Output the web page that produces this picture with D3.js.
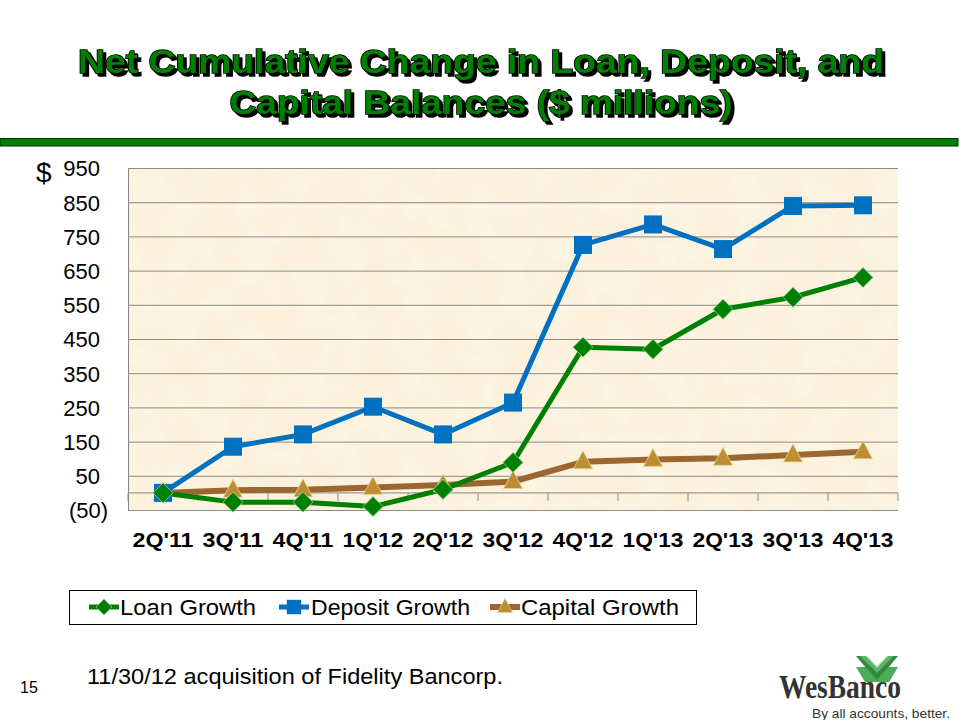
<!DOCTYPE html>
<html><head><meta charset="utf-8">
<script src="https://cdn.jsdelivr.net/npm/d3@7"></script>
<style>
body{margin:0;background:#fff;}
svg{display:block;font-family:Arial,"Liberation Sans",sans-serif;}
</style></head>
<body><svg id="c" width="960" height="720"></svg>
<script>
const categories = ["2Q'11","3Q'11","4Q'11","1Q'12","2Q'12","3Q'12","4Q'12","1Q'13","2Q'13","3Q'13","4Q'13"];
const loanGrowth    = [0, -27, -27, -40, 10, 89, 426, 420, 537, 572, 630];
const depositGrowth = [0, 135, 171, 252, 171, 264, 725, 785, 713, 839, 841];
const capitalGrowth = [0, 8, 9, 16, 23, 33, 91, 98, 101, 111, 120];
const yTicks = [-50, 50, 150, 250, 350, 450, 550, 650, 750, 850, 950];
const seriesNames = ["Loan Growth", "Deposit Growth", "Capital Growth"];
const titleLines = ["Net Cumulative Change in Loan, Deposit, and", "Capital Balances ($ millions)"];
const footnote = "11/30/12 acquisition of Fidelity Bancorp.";
const pageNumber = "15";

const svg = d3.select("#c");
const L = 128, R = 898, T = 168, B = 510;
const defs = svg.append("defs");

// Title with drop shadow
const sh = defs.append("filter").attr("id", "tshadow").attr("x", "-5%").attr("y", "-20%").attr("width", "110%").attr("height", "150%");
sh.append("feDropShadow").attr("dx", 3).attr("dy", 3).attr("stdDeviation", 0.6)
  .attr("flood-color", "#000").attr("flood-opacity", 1);
const tg = svg.append("g");
const tspec = [{t: titleLines[0], y: 73, len: 806}, {t: titleLines[1], y: 114, len: 503}];
tspec.forEach(s => {
  tg.append("text").attr("x", 481).attr("y", s.y).attr("text-anchor", "middle")
    .attr("font-size", 34).attr("font-weight", "bold").attr("fill", "#008000")
    .attr("stroke", "#000").attr("stroke-width", 1.6).attr("paint-order", "stroke")
    .attr("filter", "url(#tshadow)")
    .attr("textLength", s.len).attr("lengthAdjust", "spacingAndGlyphs").text(s.t);
});
svg.append("rect").attr("x", 0).attr("y", 138.5).attr("width", 958).attr("height", 7.5)
  .attr("fill", "#008000").attr("stroke", "#0a2a0a").attr("stroke-width", 1);

// Scales
const x = d3.scaleBand().domain(categories).range([L, R]).padding(0);
const y = d3.scaleLinear().domain([-50, 950]).range([B, T]);
const cx = c => x(c) + x.bandwidth() / 2;

// Plot background (parchment)
const f = defs.append("filter").attr("id", "parch").attr("x", 0).attr("y", 0).attr("width", 1).attr("height", 1);
f.append("feTurbulence").attr("type", "fractalNoise").attr("baseFrequency", 0.03).attr("numOctaves", 3).attr("seed", 4).attr("result", "n");
f.append("feColorMatrix").attr("in", "n").attr("type", "matrix")
  .attr("values", "0 0 0 0 0.99  0 0 0 0 0.95  0 0 0 0 0.85  0 0 0 0.9 -0.25").attr("result", "c");
f.append("feComposite").attr("in", "c").attr("in2", "SourceGraphic").attr("operator", "over");
svg.append("rect").attr("x", L).attr("y", T).attr("width", R - L).attr("height", B - T)
  .attr("fill", "#FBF0DA").attr("filter", "url(#parch)");

// Gridlines + y labels
const yAxis = d3.axisLeft(y).tickValues(yTicks).tickSize(-(R - L)).tickPadding(0)
  .tickFormat(d => d < 0 ? "(" + Math.abs(d) + ")" : String(d));
const ya = svg.append("g").attr("transform", `translate(${L},0)`).call(yAxis);
ya.select(".domain").attr("stroke", "#868686");
ya.selectAll(".tick line").attr("stroke", "#8a8a8a").attr("stroke-width", 1);
ya.selectAll(".tick text").attr("font-size", 22).attr("fill", "#000")
  .attr("font-family", "Arial, 'Liberation Sans', sans-serif")
  .attr("x", d => d < 0 ? -20 : -28).attr("dy", "0.36em");
svg.append("text").attr("x", 36).attr("y", 182).attr("font-size", 28).attr("fill", "#000").text("$");

// X axis line at zero with boundary ticks
const xa = svg.append("g");
xa.append("line").attr("x1", L).attr("x2", R).attr("y1", y(0)).attr("y2", y(0)).attr("stroke", "#868686");
xa.selectAll("line.tk").data(categories.concat(["end"])).enter().append("line").attr("class", "tk")
  .attr("x1", (d, i) => i < categories.length ? x(d) : R).attr("x2", (d, i) => i < categories.length ? x(d) : R)
  .attr("y1", y(0)).attr("y2", y(0) + 8).attr("stroke", "#868686");

// X labels
const xAxis = d3.axisBottom(x).tickSize(0).tickPadding(22);
const xl = svg.append("g").attr("transform", `translate(0,${B})`).call(xAxis);
xl.select(".domain").remove();
xl.selectAll(".tick text").attr("font-size", 21).attr("font-weight", "bold").attr("fill", "#000")
  .attr("font-family", "Arial, 'Liberation Sans', sans-serif")
  .attr("textLength", 61).attr("lengthAdjust", "spacingAndGlyphs");

// Series
const series = [
  {name: seriesNames[2], vals: capitalGrowth, color: "#9C6631", mcolor: "#BE8E32", w: 6, marker: "tri"},
  {name: seriesNames[1], vals: depositGrowth, color: "#0070C0", mcolor: "#0070C0", w: 5, marker: "sq"},
  {name: seriesNames[0], vals: loanGrowth, color: "#008000", mcolor: "#008000", w: 5, marker: "dia"}
];
const line = d3.line().x((d, i) => cx(categories[i])).y(d => y(d));
function marker(g, type, color) {
  if (type === "sq") g.append("rect").attr("x", -9).attr("y", -9).attr("width", 18).attr("height", 18).attr("fill", color);
  else if (type === "dia") g.append("path").attr("d", "M0,-10L10,0L0,10L-10,0Z").attr("fill", color).attr("stroke", "#9fd09f").attr("stroke-width", 0.8);
  else g.append("path").attr("d", "M0,-11L9.5,7L-9.5,7Z").attr("fill", color).attr("stroke", "#e8d3a0").attr("stroke-width", 0.8);
}
series.forEach(s => {
  svg.append("path").datum(s.vals).attr("d", line).attr("fill", "none")
    .attr("stroke", s.color).attr("stroke-width", s.w).attr("stroke-linejoin", "round");
});
series.forEach(s => {
  s.vals.forEach((v, i) => {
    const g = svg.append("g").attr("transform", `translate(${cx(categories[i])},${y(v)})`);
    marker(g, s.marker, s.mcolor);
  });
});

// Legend
svg.append("rect").attr("x", 69.5).attr("y", 590.5).attr("width", 627).attr("height", 34)
  .attr("fill", "#fff").attr("stroke", "#000").attr("stroke-width", 1);
const legSpec = [
  {s: series[2], x0: 89, tx: 120, len: 136},
  {s: series[1], x0: 279, tx: 311, len: 159},
  {s: series[0], x0: 490, tx: 521, len: 158}
];
legSpec.forEach(l => {
  svg.append("line").attr("x1", l.x0).attr("x2", l.x0 + 30).attr("y1", 607).attr("y2", 607)
    .attr("stroke", l.s.color).attr("stroke-width", l.s.w);
  const g = svg.append("g").attr("transform", `translate(${l.x0 + 15},607) scale(0.8)`);
  marker(g, l.s.marker, l.s.mcolor);
  svg.append("text").attr("x", l.tx).attr("y", 615).attr("font-size", 22).attr("fill", "#000")
    .attr("textLength", l.len).attr("lengthAdjust", "spacingAndGlyphs").text(l.s.name);
});

// Footnote and page number
svg.append("text").attr("x", 87).attr("y", 684).attr("font-size", 22).attr("fill", "#000")
  .attr("textLength", 416).attr("lengthAdjust", "spacingAndGlyphs").text(footnote);
svg.append("text").attr("x", 20).attr("y", 693).attr("font-size", 16).attr("fill", "#000").text(pageNumber);

// Logo
const lg = svg.append("g");
lg.append("path").attr("d", "M856,656 L866,656 L877,668 L888,656 L898,656 L877,681 Z").attr("fill", "#2E8B3A");
lg.append("path").attr("d", "M856,667 L866,667 L877,679 L888,667 L898,667 L889,682 L865,682 Z").attr("fill", "#3CA24A").attr("opacity", 0.9);
lg.append("path").attr("d", "M860,656 L867,656 L877,666 L887,656 L894,656 L877,673 Z").attr("fill", "#7FC98A").attr("opacity", 0.6);
lg.append("text").attr("x", 779).attr("y", 698).attr("font-family", "'Liberation Serif','DejaVu Serif',serif")
  .attr("font-weight", "bold").attr("font-size", 33).attr("fill", "#333")
  .attr("textLength", 122).attr("lengthAdjust", "spacingAndGlyphs").text("WesBanco");
lg.append("text").attr("x", 812).attr("y", 718).attr("font-size", 13).attr("fill", "#333")
  .attr("textLength", 138).attr("lengthAdjust", "spacingAndGlyphs").text("By all accounts, better.");
</script></body></html>
